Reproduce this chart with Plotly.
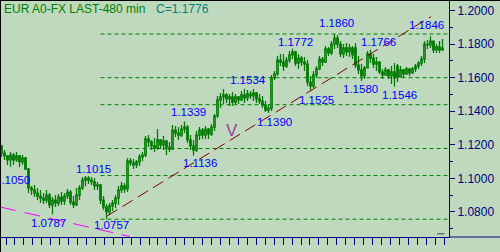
import numpy as np
import plotly.graph_objects as go

# ---------------- data ----------------
opens = [1.1193,1.1151,1.1134,1.1110,1.1139,1.1110,1.1134,1.1098,1.1122,1.1056,
         1.0943,1.0931,1.0913,1.0895,1.0883,1.0871,1.0901,1.0842,1.0871,1.0853,
         1.0889,1.0865,1.0895,1.0919,1.0859,1.0842,1.0901,1.0943,1.0990,1.1002,
         1.0990,1.0979,1.0955,1.0961,1.0871,1.0830,1.0800,1.0836,1.0853,1.0883,
         1.0931,1.0955,1.0937,1.1104,1.1092,1.1080,1.1098,1.1128,1.1139,1.1235,
         1.1217,1.1193,1.1181,1.1229,1.1199,1.1223,1.1187,1.1175,1.1288,1.1270,
         1.1258,1.1294,1.1306,1.1229,1.1193,1.1169,1.1258,1.1288,1.1258,1.1294,
         1.1264,1.1306,1.1372,1.1467,1.1485,1.1497,1.1473,1.1485,1.1455,1.1485,
         1.1467,1.1497,1.1479,1.1503,1.1491,1.1509,1.1473,1.1461,1.1437,1.1407,
         1.1419,1.1598,1.1622,1.1705,1.1693,1.1669,1.1705,1.1735,1.1753,1.1687,
         1.1717,1.1693,1.1681,1.1574,1.1550,1.1616,1.1652,1.1711,1.1693,1.1771,
         1.1747,1.1800,1.1836,1.1800,1.1741,1.1777,1.1753,1.1777,1.1777,1.1675,
         1.1646,1.1610,1.1658,1.1741,1.1717,1.1681,1.1693,1.1634,1.1616,1.1646,
         1.1610,1.1634,1.1669,1.1604,1.1646,1.1622,1.1652,1.1628,1.1652,1.1669,
         1.1687,1.1711,1.1800,1.1795,1.1818,1.1765,1.1783,1.1765]
highs = [1.1199,1.1169,1.1139,1.1157,1.1151,1.1157,1.1139,1.1139,1.1128,1.1062,
         1.0955,1.0961,1.0943,1.0931,1.0913,1.0931,1.0913,1.0889,1.0901,1.0907,
         1.0919,1.0913,1.0937,1.0931,1.0895,1.0943,1.0961,1.1008,1.1014,1.1015,
         1.1008,1.1002,1.0979,1.0967,1.0895,1.0847,1.0853,1.0871,1.0901,1.0955,
         1.0979,1.0973,1.1122,1.1122,1.1116,1.1110,1.1145,1.1157,1.1253,1.1258,
         1.1229,1.1241,1.1294,1.1235,1.1253,1.1229,1.1217,1.1318,1.1312,1.1306,
         1.1318,1.1339,1.1318,1.1258,1.1229,1.1282,1.1306,1.1300,1.1312,1.1300,
         1.1324,1.1384,1.1491,1.1509,1.1532,1.1509,1.1503,1.1515,1.1503,1.1491,
         1.1521,1.1534,1.1527,1.1521,1.1532,1.1515,1.1503,1.1491,1.1461,1.1443,
         1.1616,1.1640,1.1729,1.1741,1.1741,1.1723,1.1759,1.1772,1.1759,1.1741,
         1.1729,1.1723,1.1705,1.1610,1.1640,1.1669,1.1729,1.1723,1.1789,1.1783,
         1.1818,1.1860,1.1854,1.1818,1.1800,1.1806,1.1800,1.1789,1.1806,1.1729,
         1.1681,1.1669,1.1759,1.1766,1.1741,1.1723,1.1699,1.1652,1.1663,1.1652,
         1.1669,1.1687,1.1681,1.1669,1.1652,1.1663,1.1652,1.1663,1.1681,1.1699,
         1.1729,1.1818,1.1824,1.1846,1.1818,1.1800,1.1818,1.1830]
lows = [1.1128,1.1110,1.1080,1.1068,1.1080,1.1098,1.1068,1.1080,1.1050,1.0913,
        1.0901,1.0889,1.0871,1.0853,1.0847,1.0853,1.0824,1.0787,1.0830,1.0836,
        1.0842,1.0842,1.0877,1.0842,1.0824,1.0836,1.0871,1.0931,1.0955,1.0967,
        1.0961,1.0931,1.0931,1.0847,1.0812,1.0757,1.0782,1.0806,1.0824,1.0842,
        1.0913,1.0913,1.0919,1.1074,1.1056,1.1062,1.1074,1.1104,1.1128,1.1187,
        1.1169,1.1157,1.1169,1.1175,1.1169,1.1139,1.1157,1.1169,1.1247,1.1229,
        1.1247,1.1270,1.1211,1.1169,1.1136,1.1157,1.1229,1.1235,1.1235,1.1235,
        1.1253,1.1282,1.1360,1.1419,1.1443,1.1449,1.1431,1.1431,1.1443,1.1443,
        1.1461,1.1449,1.1461,1.1473,1.1461,1.1449,1.1443,1.1419,1.1396,1.1390,
        1.1401,1.1586,1.1610,1.1669,1.1640,1.1658,1.1687,1.1711,1.1669,1.1652,
        1.1669,1.1640,1.1550,1.1525,1.1538,1.1598,1.1646,1.1669,1.1687,1.1729,
        1.1735,1.1771,1.1777,1.1723,1.1717,1.1729,1.1723,1.1711,1.1658,1.1622,
        1.1580,1.1592,1.1658,1.1687,1.1658,1.1640,1.1622,1.1592,1.1610,1.1592,
        1.1562,1.1546,1.1574,1.1610,1.1598,1.1616,1.1610,1.1622,1.1634,1.1652,
        1.1669,1.1687,1.1771,1.1777,1.1747,1.1747,1.1747,1.1759]
closes = [1.1151,1.1134,1.1110,1.1139,1.1110,1.1134,1.1098,1.1122,1.1056,1.0943,
          1.0931,1.0913,1.0895,1.0883,1.0871,1.0901,1.0842,1.0871,1.0853,1.0889,
          1.0865,1.0895,1.0919,1.0859,1.0842,1.0901,1.0943,1.0990,1.1002,1.0990,
          1.0979,1.0955,1.0961,1.0871,1.0830,1.0800,1.0836,1.0853,1.0883,1.0931,
          1.0955,1.0937,1.1104,1.1092,1.1080,1.1098,1.1128,1.1139,1.1235,1.1217,
          1.1193,1.1181,1.1229,1.1199,1.1223,1.1187,1.1175,1.1288,1.1270,1.1258,
          1.1294,1.1306,1.1229,1.1193,1.1169,1.1258,1.1288,1.1258,1.1294,1.1264,
          1.1306,1.1372,1.1467,1.1485,1.1497,1.1473,1.1485,1.1455,1.1485,1.1467,
          1.1497,1.1479,1.1503,1.1491,1.1509,1.1473,1.1461,1.1437,1.1407,1.1419,
          1.1598,1.1622,1.1705,1.1693,1.1669,1.1705,1.1735,1.1753,1.1687,1.1717,
          1.1693,1.1681,1.1574,1.1550,1.1616,1.1652,1.1711,1.1693,1.1771,1.1747,
          1.1800,1.1836,1.1800,1.1741,1.1777,1.1753,1.1777,1.1735,1.1675,1.1646,
          1.1610,1.1658,1.1741,1.1717,1.1681,1.1693,1.1634,1.1616,1.1646,1.1610,
          1.1634,1.1598,1.1604,1.1646,1.1622,1.1652,1.1628,1.1652,1.1669,1.1687,
          1.1711,1.1800,1.1795,1.1818,1.1765,1.1783,1.1765,1.1776]
bars = list(range(len(closes)))

# swing-point labels: text, bar index, price, label offset (px)
pivot_text  = ["1.1050","1.0787","1.1015","1.0757","1.1339","1.1136","1.1534","1.1390",
               "1.1772","1.1525","1.1860","1.1580","1.1766","1.1546","1.1846"]
pivot_bar   = [8, 17, 29, 35, 61, 64, 81, 89, 97, 103, 111, 120, 123, 131, 143]
pivot_price = [1.1050,1.0787,1.1015,1.0757,1.1339,1.1136,1.1534,1.1390,
               1.1772,1.1525,1.1860,1.1580,1.1766,1.1546,1.1846]
pivot_dx    = [-13.5,-4.5,4.5,4.5,3.5,6.5,3.5,6.5,3.5,6.5,2.5,-0.5,8.5,5.5,-3.5]
pivot_dy    = [-10,-9,7,-6,9.5,-7.4,8.7,-9,6.8,-9.7,11,-8,7.8,-8.3,11.4]

# Fibonacci retracement levels (1.0757 -> 1.1860)
fib_levels = [1.1860, 1.1600, 1.1439, 1.1178, 1.1017, 1.0757]
fib_start_bar = 33

# trend lines (bar index, price)
trend_bars = [35.2, 143.2]
trend_prices = [1.0776, 1.1964]
chan_bars = [-0.5, 42.8]
chan_prices = [1.0830, 1.0654]

ytick_vals = [1.08, 1.10, 1.12, 1.14, 1.16, 1.18, 1.20]
yminor_vals = [1.07, 1.09, 1.11, 1.13, 1.15, 1.17, 1.19]

# ---------------- styling ----------------
BG = "#BED9BE"
GREEN = "#007A00"
NAVY = "#000080"
FONT = "Liberation Sans, Arial, sans-serif"

x_lo, x_hi = -0.5, 149.17
y_lo, y_hi = 1.0651, 1.20625

fig = go.Figure()
fig.add_trace(go.Candlestick(
    x=bars, open=opens, high=highs, low=lows, close=closes,
    increasing=dict(line=dict(color=GREEN, width=1.25), fillcolor=BG),
    decreasing=dict(line=dict(color=GREEN, width=1.25), fillcolor=GREEN),
    whiskerwidth=0, hoverinfo="skip", showlegend=False))

fig.add_trace(go.Scatter(x=trend_bars, y=trend_prices, mode="lines",
                         line=dict(color="#800000", width=1, dash="12px,6px"),
                         hoverinfo="skip", showlegend=False))
fig.add_trace(go.Scatter(x=chan_bars, y=chan_prices, mode="lines",
                         line=dict(color="#FF00FF", width=1, dash="16px,9px"),
                         hoverinfo="skip", showlegend=False, cliponaxis=True))

shapes = []
for lv in fib_levels:
    shapes.append(dict(type="line", xref="x", yref="y", x0=fib_start_bar, x1=x_hi,
                       y0=lv, y1=lv, line=dict(color="#008000", width=1, dash="4px,3px"),
                       layer="below"))
# window frame (left and top), bottom line extension
shapes.append(dict(type="line", xref="paper", yref="paper", x0=0, x1=0, y0=-0.07, y1=1.0,
                   line=dict(color="black", width=2)))
shapes.append(dict(type="line", xref="paper", yref="paper", x0=0, x1=1.12, y0=1, y1=1,
                   line=dict(color="black", width=2)))
shapes.append(dict(type="line", xref="paper", yref="paper", x0=1, x1=1.12, y0=0, y1=0,
                   line=dict(color=NAVY, width=1)))
# small marker near bottom right
shapes.append(dict(type="line", xref="x", yref="y", x0=145.2, x1=147.6, y0=1.0670, y1=1.0670,
                   line=dict(color="#404040", width=1)))

annotations = []
annotations.append(dict(xref="paper", yref="paper", x=0, y=1, xanchor="left", yanchor="middle",
                        xshift=2, yshift=-9, text="EUR A0-FX LAST-480 min", showarrow=False,
                        font=dict(family=FONT, size=12, color="#008000")))
annotations.append(dict(xref="paper", yref="paper", x=0, y=1, xanchor="left", yanchor="middle",
                        xshift=154, yshift=-9, text="C=1.1776", showarrow=False,
                        font=dict(family=FONT, size=12, color="#008080")))
for t, b, p, dx, dy in zip(pivot_text, pivot_bar, pivot_price, pivot_dx, pivot_dy):
    annotations.append(dict(x=b, y=p, text=t, showarrow=False, xshift=dx, yshift=dy,
                            xanchor="center", yanchor="middle",
                            font=dict(family=FONT, size=11.5, color="#0000FF")))
annotations.append(dict(x=76.8, y=1.1288, text="V", showarrow=False,
                        font=dict(family=FONT, size=17, color="#A040A0")))

fig.update_layout(
    width=500, height=252,
    margin=dict(l=0, r=51, t=0, b=15, pad=0),
    paper_bgcolor=BG, plot_bgcolor=BG,
    showlegend=False,
    shapes=shapes, annotations=annotations,
    xaxis=dict(range=[x_lo, x_hi], showgrid=False, zeroline=False,
               showline=True, linecolor=NAVY, linewidth=1,
               ticks="outside", ticklen=7, tickcolor=NAVY, tickwidth=1,
               tickvals=list(np.arange(1.5, x_hi, 2.98)), showticklabels=False,
               rangeslider=dict(visible=False), fixedrange=True),
    yaxis=dict(range=[y_lo, y_hi], side="right", showgrid=False, zeroline=False,
               showline=True, linecolor=NAVY, linewidth=1,
               ticks="outside", ticklen=5, tickcolor=NAVY, tickwidth=1,
               tickvals=ytick_vals, ticktext=[f"{v:.4f}" for v in ytick_vals],
               tickfont=dict(family=FONT, size=12, color=NAVY),
               minor=dict(tickvals=yminor_vals, ticks="outside", ticklen=3, tickcolor=NAVY),
               fixedrange=True),
)
fig.write_html("out.html")
